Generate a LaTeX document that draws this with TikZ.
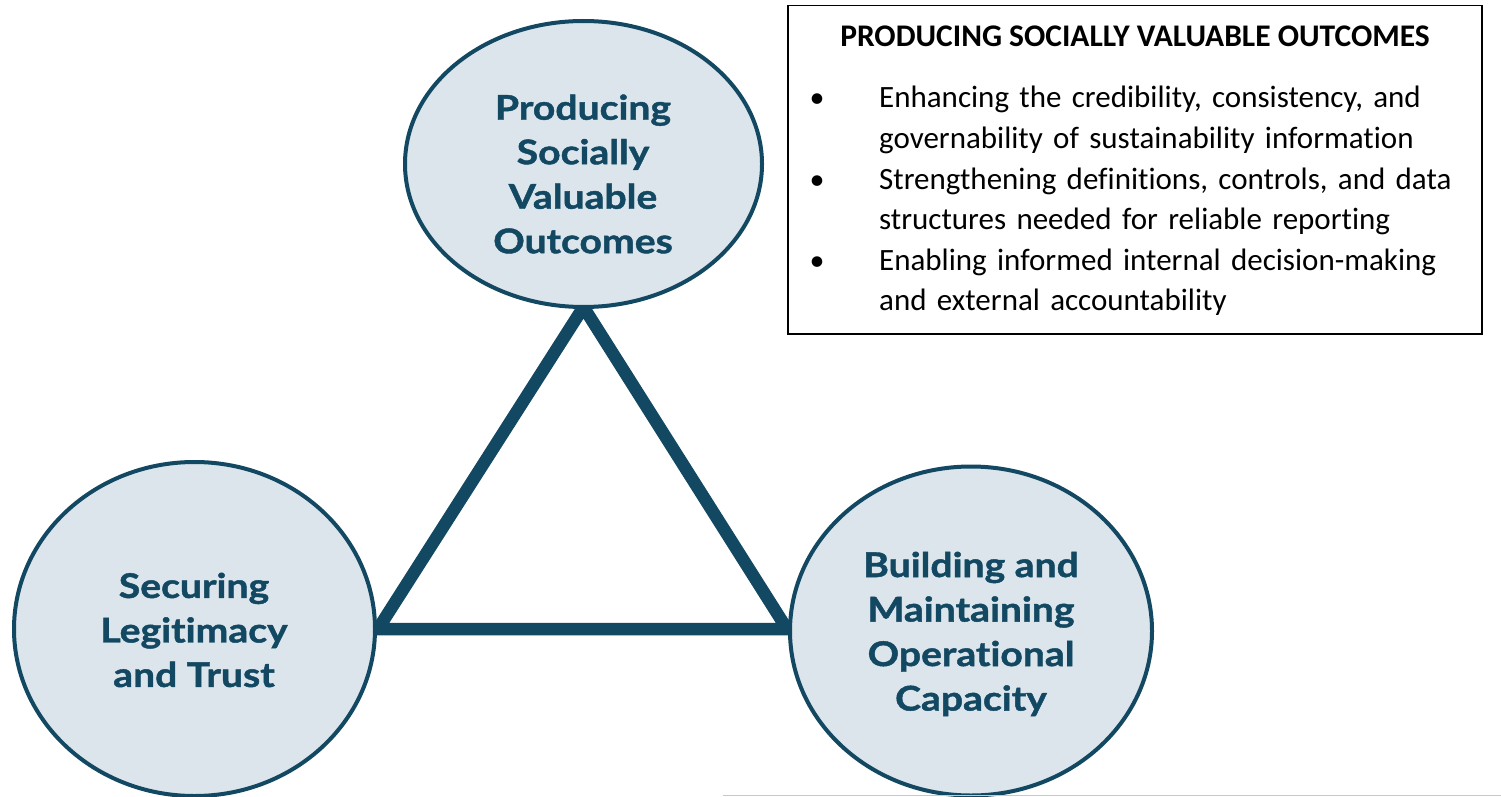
\documentclass[tikz,border=0pt]{standalone}
\usepackage{fontspec}
\setmainfont[Ligatures=NoCommon]{Carlito}
\newfontfamily\blobfont[Ligatures=NoCommon, BoldFeatures={FakeBold=1.3, FakeStretch=1.15}]{Lato}
\usetikzlibrary{shapes.geometric,backgrounds,calc}
\definecolor{deepteal}{HTML}{124862}
\definecolor{paleblue}{HTML}{DCE5EB}
\definecolor{rulegray}{HTML}{C8C8C8}
\tikzset{
  blob/.style={ellipse, draw=deepteal, fill=paleblue, line width=4pt, inner sep=0pt, outer sep=0pt},
  blobtext/.style={text=deepteal, align=center, font=\blobfont\bfseries\fontsize{34}{44.5}\selectfont, inner sep=0pt},
  tri/.style={draw=deepteal, line width=12.5pt, line join=miter},
  panel/.style={draw=black, line width=1.5pt, fill=white},
  panelhead/.style={font=\bfseries\fontsize{31.5}{36}\selectfont, inner sep=0pt},
  itemtext/.style={font=\fontsize{31}{40.6}\selectfont, align=left, text width=600pt, inner sep=0pt},
  dot/.style={font=\fontsize{30}{40.6}\selectfont, inner sep=0pt},
}
\begin{document}
\begin{tikzpicture}[x=1pt,y=-1pt]
\useasboundingbox (0,0) rectangle (1501,797);

% the three outcome ellipses
\node[blob, minimum width=357pt, minimum height=286pt] (top) at (583.5,164) {};
\node[blob, minimum width=361pt, minimum height=334pt] (left) at (194.5,629) {};
\node[blob, minimum width=362pt, minimum height=329pt] (right) at (971,631) {};

\node[blobtext] (toptext) at (583,174) {Producing\\Socially\\Valuable\\Outcomes};
\node[blobtext] (lefttext) at (194,630) {Securing\\Legitimacy\\and Trust};
\node[blobtext] (righttext) at (971,634) {Building and\\Maintaining\\Operational\\Capacity};

% triangle joining the ellipses, behind them
\begin{scope}[on background layer]
  \coordinate (apex) at (top.south);
  \coordinate (lv) at ($(left.east)+(3,0)$);
  \coordinate (rv) at ($(right.west)+(-3,-2)$);
  \draw[tri] (apex) -- (lv) -- (rv) -- cycle;
\end{scope}

% thin rule along the bottom edge
\coordinate (ruleA) at (723,795.5);
\coordinate (ruleB) at (1501,795.5);
\draw[rulegray, line width=1.2pt] (ruleA) -- (ruleB);

% description panel
\node[panel, minimum width=694pt, minimum height=328pt, anchor=north west, inner sep=0pt] (panel) at (787,5) {};
\node[panelhead] (head) at (1135,36) {PRODUCING SOCIALLY VALUABLE OUTCOMES};

\node[dot, anchor=base] (b1) at (817,108) {•};
\node[dot, anchor=base] (b2) at (817,189) {•};
\node[dot, anchor=base] (b3) at (817,270) {•};

\node[itemtext, anchor=base west] (i1) at (879,108) {Enhancing the credibility, consistency, and\\governability of sustainability information};
\node[itemtext, anchor=base west] (i2) at (879,189) {Strengthening definitions, controls, and data\\structures needed for reliable reporting};
\node[itemtext, anchor=base west] (i3) at (879,270) {Enabling informed internal decision-making\\and external accountability};
\end{tikzpicture}
\end{document}
